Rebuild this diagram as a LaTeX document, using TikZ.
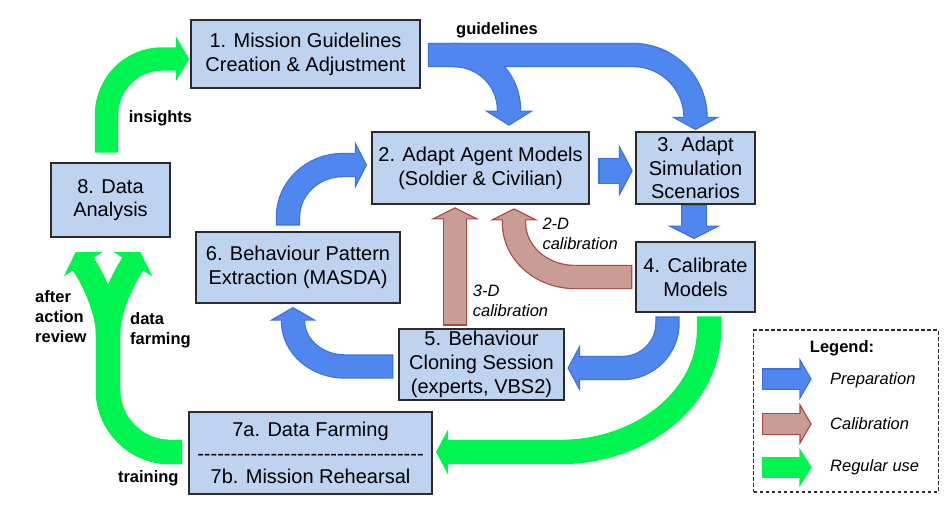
\documentclass[tikz,border=0pt]{standalone}
\usepackage{fontspec}
\setmainfont{Liberation Sans}
\usetikzlibrary{calc}
\definecolor{boxfill}{HTML}{BED3F0}
\definecolor{boxline}{HTML}{2B2B2B}
\definecolor{bF}{HTML}{4F87EF}
\definecolor{bO}{HTML}{3C72D9}
\definecolor{cF}{HTML}{C99C95}
\definecolor{cO}{HTML}{A8473F}
\definecolor{gF}{HTML}{00F44F}
\newcommand\boxfont{\fontsize{20}{23.7}\selectfont}
\newcommand\lblfont{\fontsize{16.5}{20}\selectfont}
% #1 kind, #2 shaft width, #3 head length, #4 head width, #5 path up to penultimate point, #6 penultimate point, #7 tip
\newcommand\blockarrow[7]{%
  \pgfmathsetmacro\baOW{#2+2.4}%
  \pgfmathsetmacro\baHW{#4/2}%
  \pgfmathsetmacro\baLF{#3-1.8}%
  \draw[#1edge, line width=\baOW pt, shorten >=#3pt, shorten <=-1.2pt] #5 -- #7;
  \coordinate (hb) at ($#7!#3pt!#6$);
  \filldraw[#1head] #7 -- ($(hb)!\baHW pt!90:#7$) -- ($(hb)!\baHW pt!-90:#7$) -- cycle;
  \draw[#1fill, line width=#2pt, shorten >=\baLF pt] #5 -- #7;
}
\tikzset{
  stage/.style={draw=boxline, fill=boxfill, line width=1.2pt, inner sep=0pt, align=center, font=\boxfont},
  lbl/.style={inner sep=0pt, font=\lblfont\bfseries, align=left},
  ilbl/.style={inner sep=0pt, font=\lblfont\itshape, align=left},
  prepedge/.style={draw=bO}, prephead/.style={fill=bF, draw=bO, line width=1.1pt}, prepfill/.style={draw=bF},
  caledge/.style={draw=cO}, calhead/.style={fill=cF, draw=cO, line width=1.1pt}, calfill/.style={draw=cF},
  regedge/.style={draw=gF}, reghead/.style={fill=gF, draw=gF, line width=1.1pt}, regfill/.style={draw=gF},
}
\begin{document}
\begin{tikzpicture}[x=1pt,y=-1pt]
\fill[white] (0,0) rectangle (952,506);
\useasboundingbox (0,0) rectangle (952,506);

% stages
\node[stage, minimum width=229pt, minimum height=68pt] (n1) at (305.5,54) {1. Mission Guidelines\\Creation \& Adjustment};
\node[stage, minimum width=217pt, minimum height=72pt] (n2) at (480.5,168) {2. Adapt Agent Models\\(Soldier \& Civilian)};
\node[stage, minimum width=119pt, minimum height=72pt] (n3) at (695.5,168) {3. Adapt\\Simulation\\Scenarios};
\node[stage, minimum width=119pt, minimum height=70pt] (n4) at (695.5,277) {4. Calibrate\\Models};
\node[stage, minimum width=165pt, minimum height=71pt] (n5) at (481.5,364.5) {5. Behaviour\\Cloning Session\\(experts, VBS2)};
\node[stage, minimum width=204pt, minimum height=71pt] (n6) at (298,267.5) {6. Behaviour Pattern\\Extraction (MASDA)};
\node[stage, minimum width=243pt, minimum height=82pt] (n7) at (310.5,453) {7a. Data Farming\\-{}-{}-{}-{}-{}-{}-{}-{}-{}-{}-{}-{}-{}-{}-{}-{}-{}-{}-{}-{}-{}-{}-{}-{}-{}-{}-{}-{}-{}-{}-{}-{}-{}-{}\\7b. Mission Rehearsal};
\node[stage, minimum width=119pt, minimum height=74pt] (n8) at (110.5,200) {8. Data\\Analysis};

% connector end points
\coordinate (gs) at ($(n1.east)+(8.5,1)$);
\coordinate (g3) at ($(n3.north)+(0,-2)$);
\coordinate (g2) at ($(n2.north)+(28.5,-6.3)$);
\coordinate (a23s) at ($(n2.east)+(10,2.7)$);
\coordinate (a23t) at ($(n3.west)+(-3.3,2.7)$);
\coordinate (a34s) at ($(n3.south)+(-1.5,1.7)$);
\coordinate (a34t) at ($(n4.north)+(-1.5,-3)$);
\coordinate (a45s) at ($(n4.south)+(-28,5)$);
\coordinate (a45t) at ($(n5.east)+(3.5,3.5)$);
\coordinate (a47s) at ($(n4.south)+(13.5,5)$);
\coordinate (a47t) at ($(n7.east)+(4,-1)$);
\coordinate (a62s) at ($(n6.north)+(-10,-7)$);
\coordinate (a62t) at ($(n2.west)+(-5,-3)$);
\coordinate (a56s) at ($(n5.west)+(-6.3,2)$);
\coordinate (a56t) at ($(n6.south)+(-5,4)$);
\coordinate (c52s) at ($(n5.north)+(-26.5,-4)$);
\coordinate (c52t) at ($(n2.south)+(-25.5,3.3)$);
\coordinate (c42s) at ($(n4.west)+(-4.3,0)$);
\coordinate (c42t) at ($(n2.south)+(33.5,4.3)$);
\coordinate (i81s) at ($(n8.north)+(-4,-11)$);
\coordinate (i81t) at ($(n1.west)+(-2,5)$);
\coordinate (f7s) at ($(n7.west)+(-7.5,-1)$);
\coordinate (f8l) at ($(n8.south)+(-34.5,15)$);
\coordinate (f8r) at ($(n8.south)+(29.5,15)$);

% guidelines (1 -> 2 and 1 -> 3)
\blockarrow{prep}{22}{14}{45}{($(gs)+(25,0)$) .. controls (484.4,55) and (509,79.6) .. (509,110)}{(509,110)}{(g2)}
\blockarrow{prep}{22}{12}{44}{(gs) -- (633,55) .. controls (667.5,55) and (695.5,83) .. (695.5,117.5)}{(695.5,117.5)}{(g3)}
\draw[prepfill, line width=22pt] ($(gs)+(25,0)$) .. controls (484.4,55) and (509,79.6) .. (509,110) -- (509,112);

% preparation
\blockarrow{prep}{24}{12.7}{48}{(a23s)}{(a23s)}{(a23t)}
\blockarrow{prep}{24}{12.3}{49}{(a34s)}{(a34s)}{(a34t)}
\blockarrow{prep}{22}{11.5}{43}{(a45s) -- (667.5,323) .. controls (667.5,347.9) and (647.4,368) .. (622.5,368)}{(622.5,368)}{(a45t)}
\blockarrow{prep}{22}{11}{43}{(a62s) -- (288,217) .. controls (288,188.3) and (312.6,165) .. (343,165)}{(343,165)}{(a62t)}
\blockarrow{prep}{22}{12.5}{43}{(a56s) -- (345,366.5) .. controls (316.3,366.5) and (293,346.1) .. (293,321)}{(293,321)}{(a56t)}

% calibration
\blockarrow{cal}{22}{11}{44}{(c52s)}{(c52s)}{(c52t)}
\blockarrow{cal}{22}{11}{44}{(c42s) -- (575,277) .. controls (541.3,277) and (514,252.8) .. (514,223)}{(514,223)}{(c42t)}

% regular use
\blockarrow{reg}{22}{11}{41}{(a47s) -- (709,330) .. controls (709,397.4) and (642.3,452) .. (560,452)}{(560,452)}{(a47t)}
\blockarrow{reg}{21}{12}{41}{(i81s) -- (106.5,115) .. controls (106.5,84.1) and (131.3,59) .. (162,59)}{(162,59)}{(i81t)}
\blockarrow{reg}{22}{13}{42}{(f7s) -- (170,452) .. controls (135.8,452) and (108,424.2) .. (108,390) -- (108,335) .. controls (108,310) and (94,281.7) .. (86,268.5)}{(86,268.5)}{(f8l)}
\blockarrow{reg}{22}{13}{42}{(f7s) -- (170,452) .. controls (135.8,452) and (108,424.2) .. (108,390) -- (108,335) .. controls (108,310) and (122,281.7) .. (130,268.5)}{(130,268.5)}{(f8r)}

% labels
\node[lbl, anchor=base] (lguide) at (497,34.5) {guidelines};
\node[lbl, anchor=base] (linsight) at (160.5,122) {insights};
\node[lbl, anchor=north west] (laar) at (35,288.3) {\strut after\\action\\review};
\node[lbl, anchor=north west] (ldf) at (130,310) {\strut data\\farming};
\node[lbl, anchor=base] (ltrain) at (148.3,482.3) {training};
\node[ilbl, anchor=north west] (l2d) at (542.3,215.3) {\strut 2-D\\calibration};
\node[ilbl, anchor=north west] (l3d) at (472.7,282.7) {\strut 3-D\\calibration};

% legend
\node[draw=boxline, line width=1.1pt, dash pattern=on 3.5pt off 2.5pt, minimum width=184.5pt, minimum height=162pt, inner sep=0pt] (lg) at (846,411) {};
\node[lbl, anchor=base] (lgt) at (842,352) {Legend:};
\coordinate (lp1) at (763.3,379); \coordinate (lp2) at (811,379);
\coordinate (lc1) at (763.3,424); \coordinate (lc2) at (811,424);
\coordinate (lr1) at (763.3,467.5); \coordinate (lr2) at (811,467.5);
\blockarrow{prep}{19}{11}{38}{(lp1)}{(lp1)}{(lp2)}
\blockarrow{cal}{20}{11}{38}{(lc1)}{(lc1)}{(lc2)}
\blockarrow{reg}{18.5}{11}{35}{(lr1)}{(lr1)}{(lr2)}
\node[ilbl, anchor=base west] (lgp) at (830,384) {Preparation};
\node[ilbl, anchor=base west] (lgc) at (830,429) {Calibration};
\node[ilbl, anchor=base west] (lgr) at (830,471.3) {Regular use};
\end{tikzpicture}
\end{document}
